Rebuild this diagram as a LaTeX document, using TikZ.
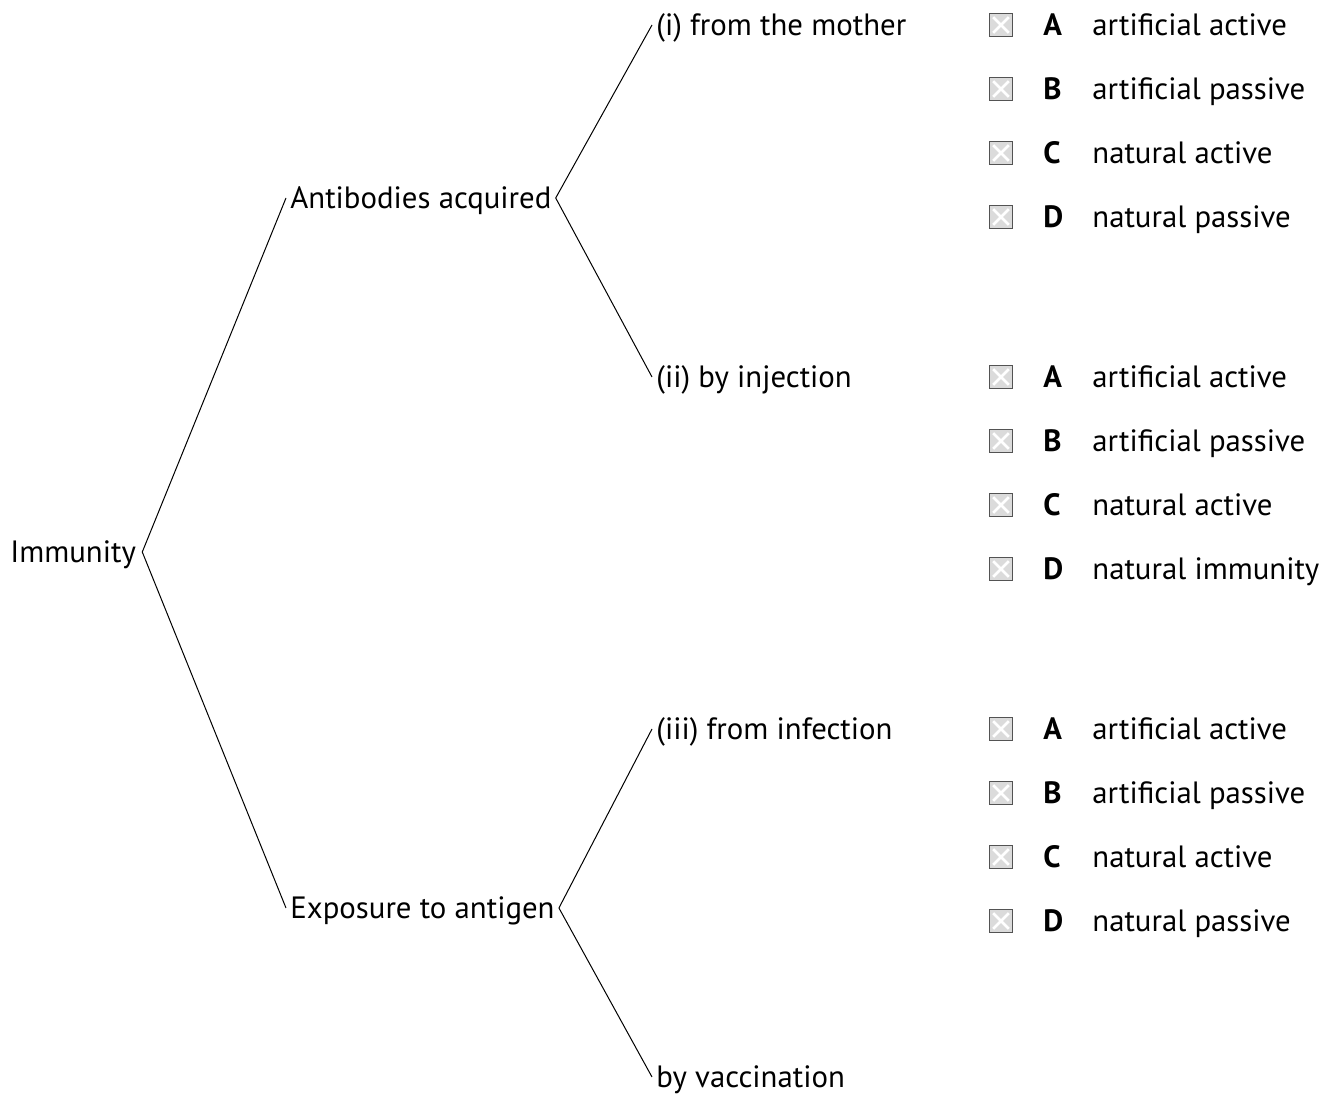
\documentclass[tikz,border=0pt]{standalone}
\usepackage{fontspec}
\setmainfont{PT Sans}
\begin{document}
\begin{tikzpicture}[x=0.5pt, y=-0.5pt,
        every node/.style={font=\fontsize{15.4}{17}\selectfont, inner sep=2pt, text height=11.5pt, text depth=1pt},
        lbl/.style={anchor=west},
        cbox/.style={draw=gray!65!black, fill=gray!28, minimum size=11.5pt, inner sep=0pt, line width=0.7pt, text height=, text depth=},
        branch/.style={line width=0.5pt}]
    \useasboundingbox (0,0) rectangle (1341,1095);
    % tree
    \node [lbl] (imm) at (6,552) {Immunity};
    \node [lbl] (anti) at (286,198) {Antibodies acquired};
    \node [lbl] (expo) at (286,908) {Exposure to antigen};
    \node [lbl] (mother) at (652,25) {(i) from the mother};
    \node [lbl] (inject) at (652,377) {(ii) by injection};
    \node [lbl] (infect) at (652,729) {(iii) from infection};
    \node [lbl] (vacc) at (652,1077) {by vaccination};
    \draw [branch] (anti.west) -- ([xshift=1pt]imm.east) -- (expo.west);
    \draw [branch] (mother.west) -- (anti.east) -- (inject.west);
    \draw [branch] (infect.west) -- (expo.east) -- (vacc.west);
    % answer boxes
    \foreach \g/\lastopt in {0/natural passive, 1/natural immunity, 2/natural passive} {
        \foreach \k/\letter/\opt in {0/A/artificial active, 1/B/artificial passive, 2/C/natural active, 3/D/\lastopt} {
            \node [cbox] (box\g\k) at (1001, 25+352*\g+64*\k) {};
            \draw [white, line width=1.4pt] ([shift={(2.2pt,-2.2pt)}]box\g\k.north west) -- ([shift={(-2.2pt,2.2pt)}]box\g\k.south east)
                ([shift={(2.2pt,2.2pt)}]box\g\k.south west) -- ([shift={(-2.2pt,-2.2pt)}]box\g\k.north east);
            \node [lbl, font=\fontsize{15.4}{17}\selectfont\bfseries] (let\g\k) at (1039, 25+352*\g+64*\k) {\letter};
            \node [lbl] (opt\g\k) at (1088, 25+352*\g+64*\k) {\opt};
        }
    }
\end{tikzpicture}
\end{document}
